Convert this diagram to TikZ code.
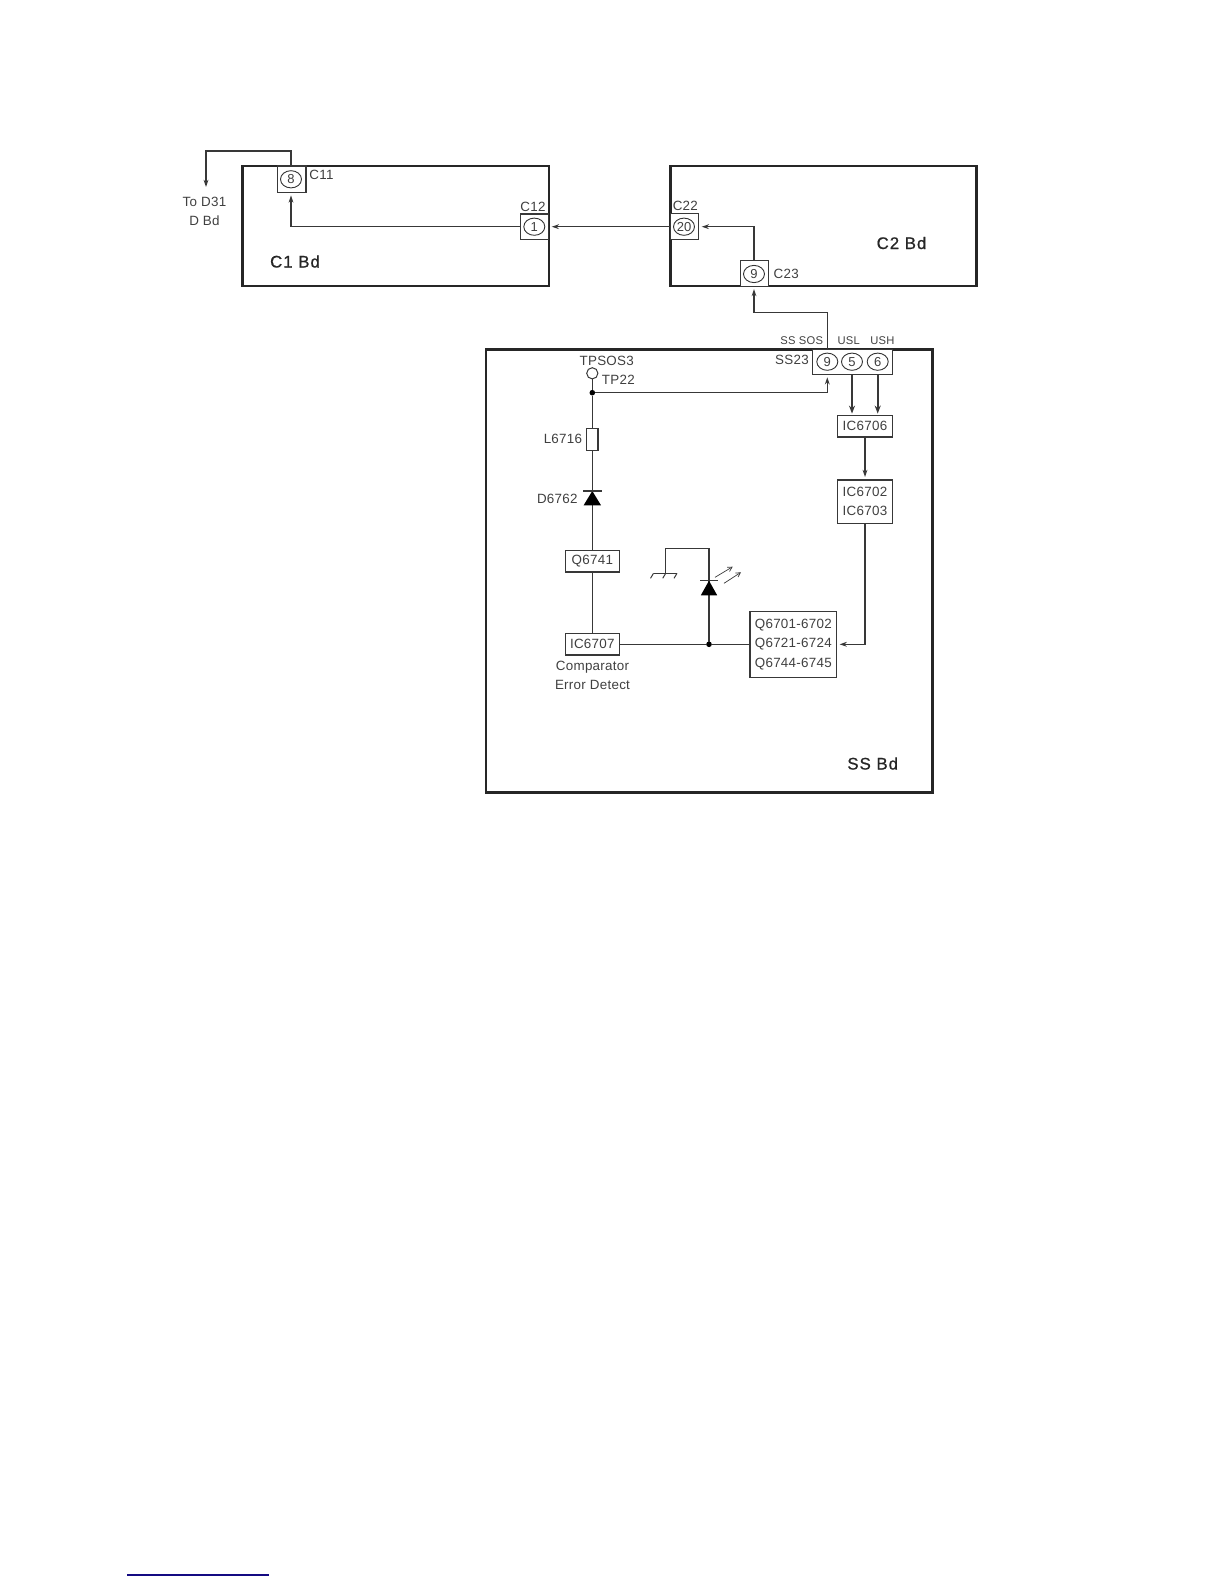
\documentclass[tikz,border=0pt]{standalone}
\usepackage{fontspec}
\usetikzlibrary{arrows.meta,shapes.geometric,calc}
\setmainfont{Liberation Sans}
\newfontfamily\lab[LetterSpace=2]{Liberation Sans}
\newfontfamily\brd[LetterSpace=6,FakeBold=0.8]{Liberation Sans}
\definecolor{ink}{gray}{0.22}
\definecolor{txt}{gray}{0.25}
\definecolor{bluerule}{RGB}{20,10,130}
\tikzset{
  board/.style={draw=black!85,line width=1.4pt,inner sep=0,outer sep=0,anchor=north west},
  conn/.style={draw=ink,line width=0.6pt,fill=white,inner sep=0,outer sep=0},
  ic/.style={conn,text=txt,align=center,font=\fontsize{6.7}{9.65}\selectfont\lab},
  icone/.style={conn,text=txt,font=\fontsize{6.7}{9.65}\selectfont\lab},
  pin/.style={ellipse,draw=black!80,line width=0.45pt,minimum width=10.5pt,minimum height=8.6pt,inner sep=0,outer sep=0,text=txt,font=\fontsize{6.5}{7}\selectfont},
  lbl/.style={text=txt,inner sep=0,align=center,font=\fontsize{6.7}{9.65}\selectfont\lab},
  tiny/.style={text=txt,inner sep=0,font=\fontsize{5.6}{7}\selectfont\lab},
  brdlbl/.style={text=black!85,inner sep=0,font=\fontsize{8.4}{9}\selectfont\brd},
  wire/.style={draw=ink,line width=0.6pt},
  flow/.style={wire,-{Stealth[length=3.6pt,width=2.4pt]},shorten >=1.5pt},
  fat/.style={draw=ink,line width=0.8pt,-{Stealth[length=4pt,width=3pt]},shorten >=1pt},
  junction/.style={circle,fill=black,inner sep=0,minimum size=2.8pt,outer sep=0},
  tp/.style={circle,draw=ink,line width=0.5pt,fill=white,inner sep=0,minimum size=5.6pt,outer sep=0},
  res/.style={conn,minimum width=5.6pt,minimum height=11pt},
  diodetri/.style={fill=black,draw=none},
  thin/.style={draw=ink,line width=0.5pt},
  ray/.style={draw=ink,line width=0.35pt,-{Straight Barb[length=2.2pt,width=2.4pt]}}
}
\begin{document}
\begin{tikzpicture}[x=0.5pt,y=-0.5pt]
\useasboundingbox (0,0) rectangle (1224,1584);
% boards
\node[board,minimum width=153.2pt,minimum height=60pt] (c1) at (242.5,166) {};
\node[board,minimum width=153pt,minimum height=60pt] (c2) at (670.7,166) {};
\node[board,minimum width=223.3pt,minimum height=221.7pt] (ss) at (486,349.3) {};
\node[brdlbl] (c1t) at (295,261.5) {C1 Bd};
\node[brdlbl] (c2t) at (901.5,243) {C2 Bd};
\node[brdlbl] (sst) at (872.7,763.5) {SS Bd};
% connector blocks
\node[conn,minimum width=14.2pt,minimum height=13.2pt] (c11) at (291.8,179.2) {};
\node[pin] (p8) at (291,179.3) {8};
\node[conn,minimum width=14pt,minimum height=12.7pt] (c12) at (534.7,226.7) {};
\node[pin] (p1) at (534.3,226.7) {1};
\node[conn,minimum width=14pt,minimum height=13pt] (c22) at (684.7,226.7) {};
\node[pin] (p20) at (684,226.7) {20};
\node[conn,minimum width=14pt,minimum height=12.7pt] (c23) at (754.7,273.4) {};
\node[pin] (p9a) at (754,274) {9};
\node[conn,minimum width=39.8pt,minimum height=12.5pt] (ss23) at (852.5,361.8) {};
\node[pin] (p9b) at (827.3,361.7) {9};
\node[pin] (p5) at (852,361.7) {5};
\node[pin] (p6) at (877.7,361.7) {6};
% ICs
\node[icone,minimum width=27.3pt,minimum height=10.7pt] (ic06) at (865,426.3) {IC6706};
\node[ic,minimum width=27.3pt,minimum height=21.7pt] (ic02) at (865,501.7) {IC6702\\IC6703};
\node[ic,minimum width=43.3pt,minimum height=33pt] (q67) at (793.3,644.3) {Q6701-6702\\Q6721-6724\\Q6744-6745};
\node[icone,minimum width=27pt,minimum height=10.7pt] (q41) at (592.3,561.3) {Q6741};
\node[icone,minimum width=27pt,minimum height=10.7pt] (ic07) at (592.3,644.3) {IC6707};
\node[res] (l16) at (592.3,439.3) {};
% labels
\node[lbl,anchor=west] (lc11) at (309,175) {C11};
\node[lbl] (lc12) at (533,206.7) {C12};
\node[lbl] (lc22) at (685.3,206.3) {C22};
\node[lbl,anchor=west] (lc23) at (773.3,274.3) {C23};
\node[lbl] (ld31) at (204.5,211.7) {To D31\\D Bd};
\node[tiny] (lsos) at (801.7,340.7) {SS SOS};
\node[tiny] (lusl) at (848.7,340.7) {USL};
\node[tiny] (lush) at (882.3,340.7) {USH};
\node[lbl] (lss23) at (792,360) {SS23};
\node[lbl] (ltps) at (606.7,360.7) {TPSOS3};
\node[lbl] (ltp22) at (618.3,380) {TP22};
\node[lbl,anchor=east] (ll16) at (582.5,438.8) {L6716};
\node[lbl,anchor=east] (ld62) at (578,498.5) {D6762};
\node[lbl] (lcmp) at (592.5,675.3) {Comparator\\Error Detect};
% points
\node[tp] (tp22) at (592.3,373.3) {};
\node[junction] (jt) at (592.3,392.7) {};
\node[junction] (jl) at (709,644.3) {};
\coordinate (d31) at (206,190);
\coordinate (d31up) at (206,151);
\coordinate (c11up) at (291,151);
\coordinate (ssup) at (827.3,312.3);
\coordinate (c23dn) at (754,312.3);
% D6762 (anode below, cathode bar above)
\coordinate (d62bar) at (592.3,491);
\coordinate (d62l) at (583.6,505.3);
\coordinate (d62r) at (601,505.3);
\coordinate (d62bl) at (583,491);
\coordinate (d62br) at (601.6,491);
% LED
\coordinate (ledbar) at (709,580.7);
\coordinate (ledl) at (700.8,595.3);
\coordinate (ledr) at (717.2,595.3);
\coordinate (ledbl) at (700,580.7);
\coordinate (ledbr) at (718,580.7);
\coordinate (ledtop) at (709,548.7);
\coordinate (gnd) at (665.7,548.7);
\coordinate (gndb) at (665.7,573.3);
\coordinate (gndl) at (653.5,573.3);
\coordinate (gndr) at (677,573.3);
% wiring
\draw[flow] (c11.north -| p8) -- (c11up) -- (d31up) -- (d31);
\draw[flow] (c12.west) -- (p8 |- c12.west) -- (p8 |- c11.south);
\draw[flow] (c22.west) -- (c12.east);
\draw[flow] (c23.north -| p9a) -- (p9a |- c22.east) -- (c22.east);
\draw[flow] (ss23.north -| p9b) -- (ssup) -- (c23dn) -- (c23.south -| p9a);
\draw[flow] (jt) -- (p9b |- jt) -- (p9b |- ss23.south);
\draw[fat] (p5 |- ss23.south) -- (p5 |- ic06.north);
\draw[fat] (p6 |- ss23.south) -- (p6 |- ic06.north);
\draw[flow] (ic06.south) -- (ic02.north);
\draw[flow] (ic02.south) -- (ic02.south |- q67.east) -- (q67.east);
\draw[wire] (tp22) -- (jt) -- (l16.north);
\draw[wire] (l16.south) -- (d62bar);
\draw[wire] (d62bar) -- (q41.north);
\draw[wire] (q41.south) -- (ic07.north);
\draw[wire] (ic07.east) -- (jl) -- (q67.west);
\draw[wire] (jl) -- (ledtop) -- (gnd) -- (gndb);
% diodes
\fill[diodetri] (d62bar) -- (d62l) -- (d62r) -- cycle;
\draw[wire] (d62bl) -- (d62br);
\fill[diodetri] (ledbar) -- (ledl) -- (ledr) -- cycle;
\draw[wire] (ledbl) -- (ledbr);
% ground
\draw[thin] (gndl) -- (gndr);
\draw[thin] (gndl) -- ++(-3,5);
\draw[thin] (gndb) -- ++(-3,5);
\draw[thin] (gndr) -- ++(-3,5);
% light rays
\coordinate (r1a) at (715,577.3);
\coordinate (r1b) at (732.7,566.7);
\coordinate (r2a) at (724,583.3);
\coordinate (r2b) at (741,572.3);
\draw[ray] (r1a) -- (r1b);
\draw[ray] (r2a) -- (r2b);
% footer rule
\coordinate (ruleL) at (127,1575);
\coordinate (ruleR) at (269,1575);
\draw[draw=bluerule,line width=0.6pt] (ruleL) -- (ruleR);
\end{tikzpicture}
\end{document}
